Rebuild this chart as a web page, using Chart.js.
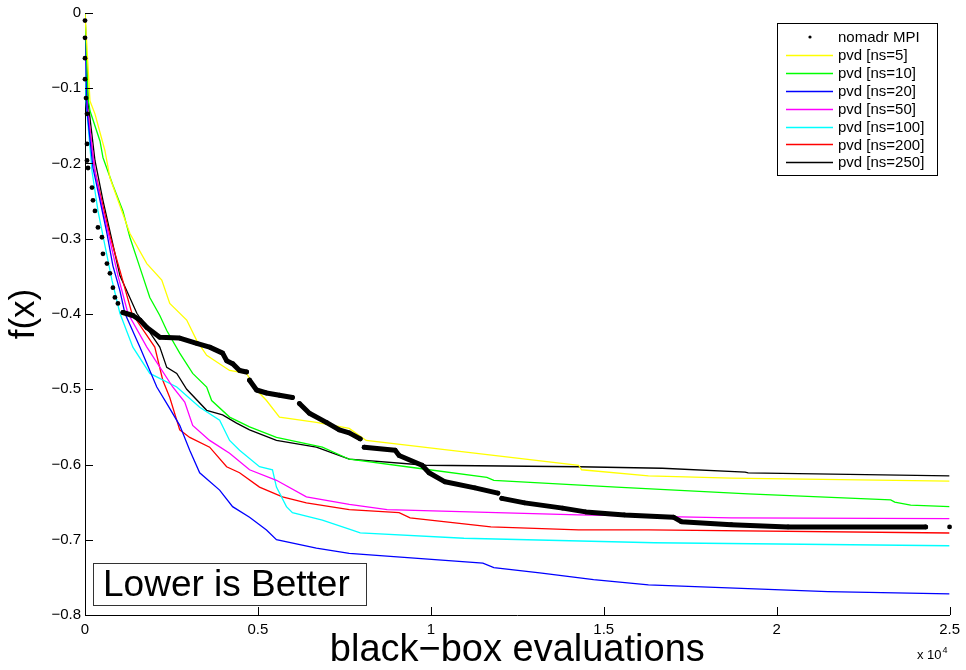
<!DOCTYPE html>
<html>
<head>
<meta charset="utf-8">
<script src="https://cdn.jsdelivr.net/npm/chart.js"></script>
<style>
  html, body { margin: 0; padding: 0; background: #fff; }
  #wrap { width: 966px; height: 670px; }
</style>
</head>
<body>
<div id="wrap"><canvas id="chart" width="966" height="670"></canvas></div>
<script>
// axis ticks
const xTickValues = [0, 5000, 10000, 15000, 20000, 25000];
const xTickLabels = ["0", "0.5", "1", "1.5", "2", "2.5"];
const yTickValues = [-0.8, -0.7, -0.6, -0.5, -0.4, -0.3, -0.2, -0.1, 0];
const yTickLabels = ["\u22120.8", "\u22120.7", "\u22120.6", "\u22120.5", "\u22120.4", "\u22120.3", "\u22120.2", "\u22120.1", "0"];

// nomadr MPI (null = gap in the dots)
const nomadrX = [0, 0, 0, 0, 29, 58, 58, 58, 87, 202, 231, 288, 375, 490, 519, 634, 721, 807, 865, 952, 1096, 1384, 1586, 1788, 2163, 2739, 3229, 3604, 3979, 4095, 4268, 4469, 4671, 4700, 4758, 4960, 5248, 5623, 5998, 6100, 6200, 6488, 6978, 7353, 7641, 7958, 8000, 8074, 8968, 9083, 9746, 9948, 10410, 11274, 11938, 12000, 12053, 12716, 13812, 14475, 15600, 17013, 17243, 18685, 20329, 24308, 24600, 25000];
const nomadrY = [-0.01, -0.033, -0.06, -0.088, -0.113, -0.134, -0.174, -0.196, -0.206, -0.232, -0.249, -0.263, -0.285, -0.298, -0.32, -0.333, -0.346, -0.365, -0.378, -0.386, -0.398, -0.402, -0.408, -0.418, -0.431, -0.432, -0.439, -0.444, -0.452, -0.462, -0.466, -0.475, -0.477, null, -0.488, -0.501, -0.505, -0.508, -0.511, null, -0.519, -0.532, -0.544, -0.554, -0.558, -0.566, null, -0.577, -0.581, -0.588, -0.601, -0.611, -0.623, -0.631, -0.638, null, -0.645, -0.651, -0.658, -0.663, -0.667, -0.67, -0.676, -0.68, -0.683, -0.683, null, -0.683];

// pvd [ns=5]
const ns5X = [0, 144, 288, 577, 721, 1298, 1788, 2220, 2451, 2941, 3229, 3518, 4181, 4671, 4960, 5248, 5623, 6690, 7641, 8131, 10525, 14273, 14360, 16292, 18685, 25000];
const ns5Y = [0, -0.117, -0.134, -0.183, -0.219, -0.293, -0.333, -0.355, -0.386, -0.408, -0.435, -0.455, -0.475, -0.479, -0.501, -0.515, -0.537, -0.544, -0.552, -0.568, -0.581, -0.601, -0.607, -0.615, -0.618, -0.622];

// pvd [ns=10]
const ns10X = [0, 87, 144, 433, 519, 807, 1096, 1298, 1586, 1874, 2163, 2364, 2739, 3114, 3518, 3662, 4181, 4758, 5536, 6863, 7641, 9631, 11620, 11822, 15369, 19175, 23299, 23414, 23875, 25000];
const ns10Y = [0, -0.113, -0.13, -0.17, -0.192, -0.229, -0.263, -0.298, -0.338, -0.378, -0.402, -0.422, -0.452, -0.479, -0.497, -0.515, -0.537, -0.55, -0.564, -0.577, -0.593, -0.605, -0.617, -0.621, -0.63, -0.639, -0.647, -0.65, -0.654, -0.656];

// pvd [ns=20]
const ns20X = [0, 58, 231, 433, 634, 807, 1009, 1153, 1586, 2076, 2393, 2739, 3028, 3316, 3893, 4268, 4758, 5248, 5536, 6690, 7641, 11505, 11822, 13149, 14706, 16292, 21482, 25000];
const ns20Y = [0, -0.13, -0.206, -0.249, -0.293, -0.336, -0.369, -0.399, -0.444, -0.497, -0.521, -0.548, -0.581, -0.611, -0.634, -0.656, -0.67, -0.687, -0.7, -0.711, -0.718, -0.731, -0.737, -0.744, -0.753, -0.76, -0.769, -0.772];

// pvd [ns=50]
const ns50X = [0, 58, 288, 519, 721, 952, 1240, 1788, 2537, 2884, 3114, 3604, 4181, 4758, 5536, 6401, 7641, 8737, 14273, 18685, 25000];
const ns50Y = [0, -0.123, -0.21, -0.263, -0.302, -0.349, -0.399, -0.444, -0.497, -0.517, -0.548, -0.568, -0.585, -0.607, -0.621, -0.643, -0.653, -0.66, -0.667, -0.671, -0.672];

// pvd [ns=100]
const ns100X = [0, 29, 202, 375, 577, 779, 1009, 1384, 1874, 2653, 3316, 3893, 4181, 4469, 5046, 5421, 5536, 5825, 5998, 6863, 7641, 7958, 10957, 16465, 25000];
const ns100Y = [0, -0.117, -0.21, -0.263, -0.309, -0.355, -0.399, -0.444, -0.479, -0.497, -0.524, -0.541, -0.568, -0.581, -0.603, -0.607, -0.63, -0.656, -0.664, -0.674, -0.686, -0.691, -0.698, -0.704, -0.708];

// pvd [ns=200]
const ns200X = [0, 58, 288, 519, 721, 1009, 1355, 2018, 2249, 2451, 2739, 3028, 3604, 4095, 4469, 5046, 5709, 6401, 7641, 9083, 9400, 11736, 14273, 16292, 25000];
const ns200Y = [0, -0.123, -0.21, -0.256, -0.296, -0.342, -0.399, -0.444, -0.488, -0.511, -0.554, -0.564, -0.577, -0.603, -0.611, -0.63, -0.643, -0.651, -0.66, -0.664, -0.671, -0.683, -0.687, -0.687, -0.691];

// pvd [ns=250]
const ns250X = [0, 87, 288, 519, 779, 1009, 1499, 2163, 2364, 2653, 2941, 3518, 3979, 4383, 4758, 5536, 6690, 7641, 9862, 14273, 16696, 19089, 19175, 25000];
const ns250Y = [0, -0.117, -0.196, -0.249, -0.302, -0.349, -0.399, -0.444, -0.471, -0.479, -0.5, -0.528, -0.534, -0.545, -0.554, -0.568, -0.577, -0.593, -0.601, -0.603, -0.605, -0.61, -0.611, -0.615];

const FONT = "'Liberation Sans', Arial, Helvetica, sans-serif";

function toPoints(xs, ys) {
  return xs.map((x, i) => ({ x: x, y: ys[i] }));
}

function pvdLine(label, xs, ys, color) {
  return {
    label: label,
    data: toPoints(xs, ys),
    borderColor: color,
    backgroundColor: color,
    borderWidth: 1.3,
    pointRadius: 0,
    tension: 0,
    fill: false,
  };
}

const datasets = [
  {
    label: "nomadr MPI",
    data: toPoints(nomadrX, nomadrY),
    borderColor: "#000",
    backgroundColor: "#000",
    borderWidth: 5,
    borderCapStyle: "round",
    borderJoinStyle: "round",
    pointRadius: 2.4,
    pointBorderWidth: 0,
    pointBackgroundColor: "#000",
    spanGaps: false,
    clip: 8,
    markerOnly: true,
    segment: {
      // the first evaluations are isolated dots
      borderColor: (c) => (c.p0.parsed.x < 1096 ? "rgba(0,0,0,0)" : undefined),
    },
  },
  pvdLine("pvd [ns=5]", ns5X, ns5Y, "#ffff00"),
  pvdLine("pvd [ns=10]", ns10X, ns10Y, "#00ff00"),
  pvdLine("pvd [ns=20]", ns20X, ns20Y, "#0000ff"),
  pvdLine("pvd [ns=50]", ns50X, ns50Y, "#ff00ff"),
  pvdLine("pvd [ns=100]", ns100X, ns100Y, "#00ffff"),
  pvdLine("pvd [ns=200]", ns200X, ns200Y, "#ff0000"),
  pvdLine("pvd [ns=250]", ns250X, ns250Y, "#000000"),
];

// tick marks pointing inward, legend box, annotation, exponent
const overlay = {
  id: "overlay",
  afterDraw(chart) {
    const { ctx, chartArea, scales } = chart;
    ctx.save();

    ctx.strokeStyle = "#000";
    ctx.lineWidth = 1;
    ctx.beginPath();
    yTickValues.forEach((v) => {
      const py = Math.round(scales.y.getPixelForValue(v)) + 0.5;
      ctx.moveTo(chartArea.left, py);
      ctx.lineTo(chartArea.left + 8, py);
    });
    xTickValues.forEach((v) => {
      const px = Math.round(scales.x.getPixelForValue(v)) + 0.5;
      ctx.moveTo(px, chartArea.bottom);
      ctx.lineTo(px, chartArea.bottom - 8);
    });
    ctx.stroke();

    // legend
    const lx = 777, ly = 23, lw = 160, lh = 152;
    ctx.fillStyle = "#fff";
    ctx.fillRect(lx, ly, lw, lh);
    ctx.strokeStyle = "#000";
    ctx.strokeRect(lx + 0.5, ly + 0.5, lw, lh);
    ctx.font = "15px " + FONT;
    ctx.textBaseline = "middle";
    ctx.textAlign = "left";
    chart.data.datasets.forEach((ds, i) => {
      const cy = 37 + i * 17.9;
      if (ds.markerOnly) {
        ctx.fillStyle = "#000";
        ctx.beginPath();
        ctx.arc(810, cy, 1.6, 0, Math.PI * 2);
        ctx.fill();
      } else {
        ctx.strokeStyle = ds.borderColor;
        ctx.lineWidth = 1.3;
        ctx.beginPath();
        ctx.moveTo(786, Math.round(cy) + 0.5);
        ctx.lineTo(833, Math.round(cy) + 0.5);
        ctx.stroke();
      }
      ctx.fillStyle = "#000";
      ctx.fillText(ds.label, 838, cy + 1);
    });

    // "Lower is Better" box
    ctx.fillStyle = "#fff";
    ctx.fillRect(93, 563, 273, 42);
    ctx.strokeStyle = "#333";
    ctx.lineWidth = 1;
    ctx.strokeRect(93.5, 563.5, 273, 42);
    ctx.fillStyle = "#000";
    ctx.font = "37px " + FONT;
    ctx.textBaseline = "alphabetic";
    ctx.fillText("Lower is Better", 103, 596);

    // x 10^4
    ctx.font = "13px " + FONT;
    ctx.fillText("x 10", 917, 659);
    const w = ctx.measureText("x 10").width;
    ctx.font = "9px " + FONT;
    ctx.fillText("4", 917 + w + 1, 653);

    ctx.restore();
  },
};

new Chart(document.getElementById("chart").getContext("2d"), {
  type: "line",
  data: { datasets: datasets },
  options: {
    responsive: false,
    animation: false,
    layout: { padding: { top: 12, right: 14, left: 0, bottom: 0 } },
    plugins: {
      legend: { display: false },
      tooltip: { enabled: false },
    },
    scales: {
      x: {
        type: "linear",
        min: 0,
        max: 25000,
        afterFit: (s) => { s.height = 55; },
        afterBuildTicks: (s) => { s.ticks = xTickValues.map((v) => ({ value: v })); },
        ticks: {
          autoSkip: false,
          maxRotation: 0,
          padding: 6,
          color: "#000",
          font: { family: FONT, size: 15 },
          callback: (v, i) => xTickLabels[i],
        },
        grid: { display: false, drawTicks: false },
        border: { display: true, color: "#000", width: 1 },
        title: {
          display: true,
          text: "black\u2212box evaluations",
          color: "#000",
          font: { family: FONT, size: 38, lineHeight: 1 },
          padding: { top: 0, bottom: 0 },
        },
      },
      y: {
        type: "linear",
        min: -0.8,
        max: 0,
        afterFit: (s) => { s.width = 85; },
        afterBuildTicks: (s) => { s.ticks = yTickValues.map((v) => ({ value: v })); },
        ticks: {
          autoSkip: false,
          padding: 4,
          color: "#000",
          font: { family: FONT, size: 15 },
          callback: (v, i) => yTickLabels[i],
        },
        grid: { display: false, drawTicks: false },
        border: { display: true, color: "#000", width: 1 },
        title: {
          display: true,
          text: "f(x)",
          color: "#000",
          font: { family: FONT, size: 35, lineHeight: 1 },
          padding: { top: 7, bottom: 0 },
        },
      },
    },
  },
  plugins: [overlay],
});
</script>
</body>
</html>
